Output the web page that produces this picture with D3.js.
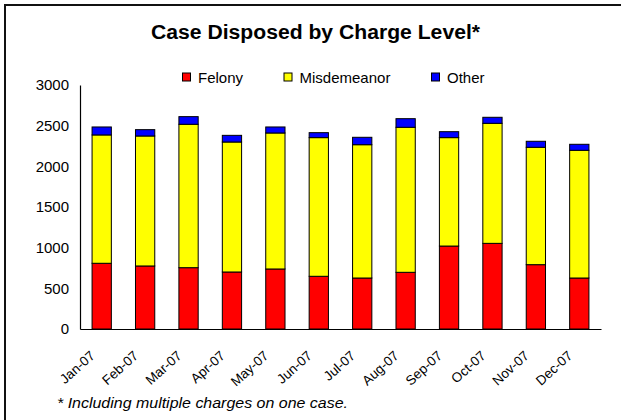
<!DOCTYPE html>
<html>
<head>
<meta charset="utf-8">
<script src="https://cdn.jsdelivr.net/npm/d3@7"></script>
<style>
  html, body { margin: 0; padding: 0; background: #fff; }
  svg { display: block; font-family: "Liberation Sans", Arial, sans-serif; }
</style>
</head>
<body>
<svg id="chart" width="621" height="420"></svg>
<script>
const months = ["Jan-07","Feb-07","Mar-07","Apr-07","May-07","Jun-07","Jul-07","Aug-07","Sep-07","Oct-07","Nov-07","Dec-07"];
const felony = [808, 775, 754, 701, 738, 648, 627, 697, 1020, 1053, 791, 627];
const misdemeanor = [1578, 1598, 1763, 1598, 1672, 1705, 1639, 1783, 1333, 1476, 1443, 1570];
const other = [98, 78, 94, 82, 74, 61, 91, 106, 73, 74, 74, 74];
const seriesNames = ["Felony", "Misdemeanor", "Other"];
const seriesColors = ["#FF0000", "#FFFF00", "#0000FF"];
const yTicks = [0, 500, 1000, 1500, 2000, 2500, 3000];
const titleText = "Case Disposed by Charge Level*";
const footnoteText = "* Including multiple charges on one case.";

const svg = d3.select("#chart");

// outer frame (top and left visible)
svg.append("path")
  .attr("d", "M5,420 L5,5 L621,5")
  .attr("fill", "none")
  .attr("stroke", "#111")
  .attr("stroke-width", 2);

const plot = { left: 80, right: 601, top: 85, bottom: 329 };

const x = d3.scaleBand()
  .domain(months)
  .range([plot.left, plot.right])
  .paddingInner(0.556)
  .paddingOuter(0.278);

const y = d3.scaleLinear()
  .domain([0, 3000])
  .range([plot.bottom, plot.top]);

const table = months.map((m, i) => ({ month: m, Felony: felony[i], Misdemeanor: misdemeanor[i], Other: other[i] }));
const stacked = d3.stack().keys(seriesNames)(table);

// title
svg.append("text")
  .attr("x", 315.5)
  .attr("y", 39.3)
  .attr("text-anchor", "middle")
  .attr("font-size", 20)
  .attr("font-weight", "bold")
  .attr("textLength", 329)
  .attr("lengthAdjust", "spacingAndGlyphs")
  .text(titleText);

// legend
const legendX = [182, 283.5, 431];
const leg = svg.append("g");
seriesNames.forEach((name, i) => {
  leg.append("rect")
    .attr("x", legendX[i] + 0.5)
    .attr("y", 73)
    .attr("width", 8)
    .attr("height", 8)
    .attr("fill", seriesColors[i])
    .attr("stroke", "#000")
    .attr("stroke-width", 1);
  leg.append("text")
    .attr("x", legendX[i] + 16)
    .attr("y", 82.5)
    .attr("font-size", 15)
    .text(name);
});

// bars
svg.append("g")
  .selectAll("g")
  .data(stacked)
  .join("g")
  .attr("fill", (d, i) => seriesColors[i])
  .selectAll("rect")
  .data(d => d)
  .join("rect")
  .attr("x", d => x(d.data.month))
  .attr("y", d => y(d[1]))
  .attr("width", x.bandwidth())
  .attr("height", d => y(d[0]) - y(d[1]))
  .attr("stroke", "#000")
  .attr("stroke-width", 1);

// y axis
const yAxis = d3.axisLeft(y).tickValues(yTicks).tickSize(0).tickPadding(11).tickFormat(d3.format("d"));
const yg = svg.append("g").attr("transform", `translate(${plot.left},0)`).call(yAxis);
yg.select(".domain").attr("stroke", "#000").attr("stroke-width", 1.2);
yg.selectAll("text").attr("font-size", 15).attr("fill", "#000").attr("font-family", "'Liberation Sans', Arial, sans-serif");

// x axis
const xAxis = d3.axisBottom(x).tickSize(0).tickPadding(0);
const xg = svg.append("g").attr("transform", `translate(0,${plot.bottom})`).call(xAxis);
xg.select(".domain").attr("stroke", "#000").attr("stroke-width", 1.2);
xg.selectAll("text")
  .attr("font-size", 13.5)
  .attr("fill", "#000")
  .attr("font-family", "'Liberation Sans', Arial, sans-serif")
  .attr("text-anchor", "end")
  .attr("dy", null)
  .attr("y", null)
  .attr("transform", "translate(-6,28) rotate(-42)");

// footnote
svg.append("text")
  .attr("x", 57)
  .attr("y", 408)
  .attr("font-size", 14)
  .attr("font-style", "italic")
  .attr("textLength", 291)
  .attr("lengthAdjust", "spacingAndGlyphs")
  .text(footnoteText);
</script>
</body>
</html>
